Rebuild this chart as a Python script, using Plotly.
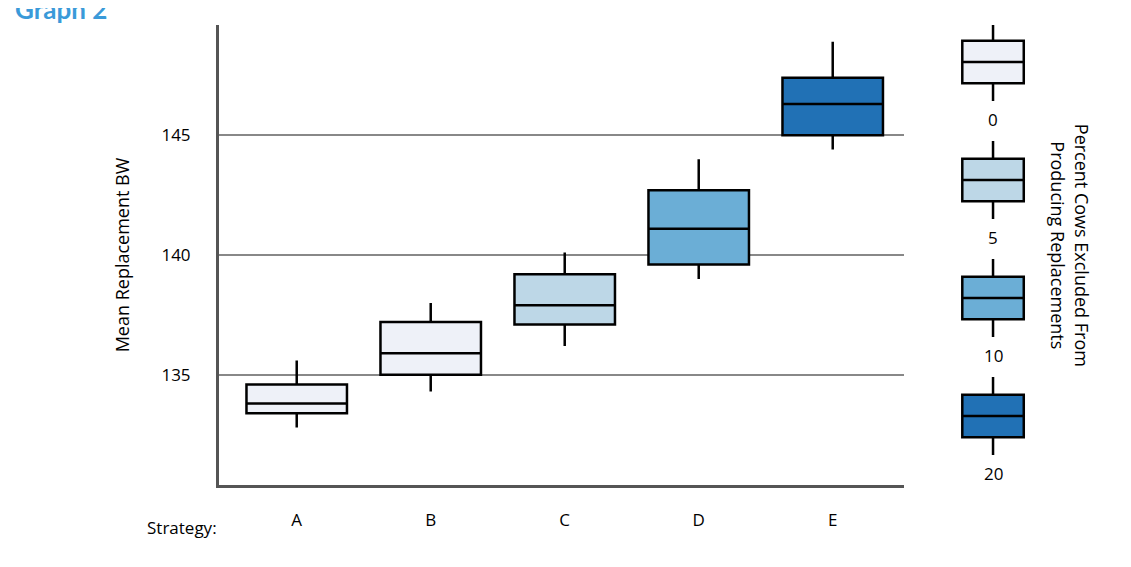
import plotly.graph_objects as go

strategies = ["A", "B", "C", "D", "E"]
low = [132.8, 134.3, 136.2, 139.0, 144.4]
q1 = [133.4, 135.0, 137.1, 139.6, 145.0]
med = [133.8, 135.9, 137.9, 141.1, 146.3]
q3 = [134.6, 137.2, 139.2, 142.7, 147.4]
high = [135.6, 138.0, 140.1, 144.0, 148.9]
excluded = ["0", "0", "5", "10", "20"]

legend_labels = ["0", "5", "10", "20"]
colors = {"0": "#eef1f8", "5": "#bdd7e7", "10": "#6baed6", "20": "#2171b5"}

fig = go.Figure()

for i, s in enumerate(strategies):
    fig.add_trace(go.Box(
        x=[s], q1=[q1[i]], median=[med[i]], q3=[q3[i]],
        lowerfence=[low[i]], upperfence=[high[i]],
        fillcolor=colors[excluded[i]], line=dict(color="black", width=2.5),
        whiskerwidth=0, width=0.75, showlegend=False, hoverinfo="skip",
    ))

# legend drawn as small boxes on a side axis
for j, lab in enumerate(legend_labels):
    fig.add_trace(go.Box(
        x=[0], q1=[j - 0.18], median=[j], q3=[j + 0.18],
        lowerfence=[j - 0.33], upperfence=[j + 0.33],
        fillcolor=colors[lab], line=dict(color="black", width=2.5),
        whiskerwidth=0, width=0.77, showlegend=False, hoverinfo="skip",
        xaxis="x2", yaxis="y2",
    ))
    fig.add_annotation(x=0, y=j + 0.49, xref="x2", yref="y2", text=lab,
                       showarrow=False, font=dict(size=17, color="black"))

fig.update_layout(
    width=1131, height=567,
    margin=dict(l=211, r=97, t=17, b=90),
    paper_bgcolor="white", plot_bgcolor="white",
    font=dict(family="Open Sans", color="black"),
    xaxis=dict(domain=[0, 0.832], range=[-0.58, 4.53], showgrid=False,
               showline=True, linecolor="#555", linewidth=3,
               tickfont=dict(size=17), ticks="", ticklabelstandoff=18),
    yaxis=dict(range=[130.4, 149.6], tickvals=[135, 140, 145],
               showgrid=True, gridcolor="#888", gridwidth=2,
               showline=True, linecolor="#555", linewidth=3,
               zeroline=False, tickfont=dict(size=17), ticks="",
               ticklabelstandoff=22,
               title=dict(text="Mean Replacement BW", font=dict(size=18), standoff=28)),
    xaxis2=dict(domain=[0.892, 0.989], range=[-0.5, 0.5], visible=False, anchor="y2"),
    yaxis2=dict(domain=[0, 1], range=[3.585, -0.314], visible=False, anchor="x2"),
)

fig.add_annotation(x=-0.25, y=1.035, xref="paper", yref="paper", text="<b>Graph 2</b>",
                   showarrow=False, xanchor="left", yanchor="middle",
                   font=dict(size=26, color="#3a9ad9", family="Lato"))
fig.add_annotation(x=0.0, y=-0.092, xref="paper", yref="paper", text="Strategy:",
                   showarrow=False, xanchor="right", yanchor="middle",
                   font=dict(size=17))
fig.add_annotation(x=1.065, y=0.52, xref="paper", yref="paper",
                   text="Percent Cows Excluded From<br>Producing Replacements",
                   textangle=90, showarrow=False, font=dict(size=18))

fig.write_html("out.html")
